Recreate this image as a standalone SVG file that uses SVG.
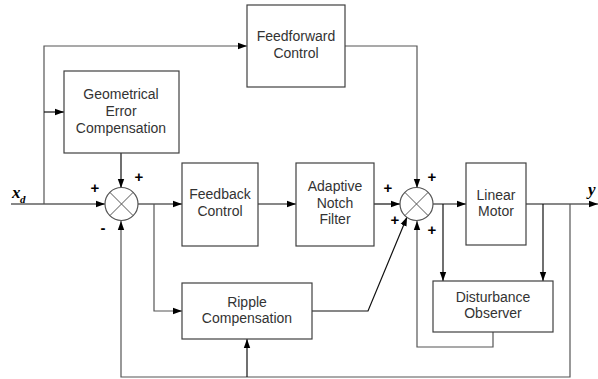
<svg xmlns="http://www.w3.org/2000/svg" width="598" height="379" viewBox="0 0 598 379">
  <style>
    .box { fill: #fff; stroke: #404040; stroke-width: 1.2; }
    .lbl { font-family: "Liberation Sans", Arial, sans-serif; font-size: 14px; fill: #333; text-anchor: middle; }
    .sig { font-family: "Liberation Sans", Arial, sans-serif; font-size: 15px; font-weight: bold; fill: #000; text-anchor: middle; }
    .var { font-family: "Liberation Serif", "Times New Roman", serif; font-style: italic; font-weight: bold; fill: #000; }
    .wire { fill: none; stroke: #111; stroke-width: 1.2; }
    .wire.g { stroke: #555; }
    .arr { marker-end: url(#ah); }
    .sum { fill: #fff; stroke: #555; stroke-width: 1.2; }
    .cross { stroke: #555; stroke-width: 1; }
  </style>
  <defs>
    <marker id="ah" markerWidth="10" markerHeight="8" refX="9" refY="4" orient="auto" markerUnits="userSpaceOnUse">
      <path d="M0,0.8 L9,4 L0,7.2 Z" fill="#000"/>
    </marker>
  </defs>
  <rect width="598" height="379" fill="#fff"/>

  <!-- connectors -->
  <g id="connectors">
    <path class="wire arr" d="M11,204 H105"/>
    <path class="wire g arr" d="M44,204 V46 H247"/>
    <path class="wire arr" d="M44,112 H64"/>
    <path class="wire arr" d="M121,153 V188"/>
    <path class="wire arr" d="M138,204 H182"/>
    <path class="wire arr" d="M258,204 H296"/>
    <path class="wire arr" d="M374,204 H400"/>
    <path class="wire g arr" d="M345,46 H417 V188"/>
    <path class="wire arr" d="M433,204 H466"/>
    <path class="wire arr" d="M526,204 H598"/>
    <path class="wire arr" d="M443,204 V281"/>
    <path class="wire arr" d="M543,204 V281"/>
    <path class="wire g arr" d="M493,332 V347 H417 V221"/>
    <path class="wire g arr" d="M570,204 V377 H121 V221"/>
    <path class="wire arr" d="M247,377 V339"/>
    <path class="wire g arr" d="M154,204 V311 H182"/>
    <path class="wire arr" d="M312,311 H368 L407,217"/>
  </g>

  <!-- blocks -->
  <g id="geometrical-error">
    <rect class="box" x="64" y="71" width="115" height="82"/>
    <text class="lbl" x="121" y="99">Geometrical</text>
    <text class="lbl" x="121" y="116">Error</text>
    <text class="lbl" x="121" y="133">Compensation</text>
  </g>
  <g id="feedforward">
    <rect class="box" x="247" y="5" width="98" height="82"/>
    <text class="lbl" x="296" y="41">Feedforward</text>
    <text class="lbl" x="296" y="58">Control</text>
  </g>
  <g id="feedback">
    <rect class="box" x="182" y="163" width="76" height="83"/>
    <text class="lbl" x="220" y="199">Feedback</text>
    <text class="lbl" x="220" y="216">Control</text>
  </g>
  <g id="notch-filter">
    <rect class="box" x="296" y="163" width="78" height="83"/>
    <text class="lbl" x="335" y="191">Adaptive</text>
    <text class="lbl" x="335" y="208">Notch</text>
    <text class="lbl" x="335" y="224">Filter</text>
  </g>
  <g id="linear-motor">
    <rect class="box" x="466" y="163" width="60" height="82"/>
    <text class="lbl" x="496" y="200">Linear</text>
    <text class="lbl" x="496" y="216">Motor</text>
  </g>
  <g id="ripple">
    <rect class="box" x="182" y="283" width="130" height="56"/>
    <text class="lbl" x="247" y="307">Ripple</text>
    <text class="lbl" x="247" y="323">Compensation</text>
  </g>
  <g id="observer">
    <rect class="box" x="433" y="281" width="120" height="51"/>
    <text class="lbl" x="493" y="302">Disturbance</text>
    <text class="lbl" x="493" y="318">Observer</text>
  </g>

  <!-- summing junctions -->
  <g id="sum1">
    <circle class="sum" cx="121.5" cy="204" r="16.5"/>
    <path class="cross" d="M109.8,192.3 L133.2,215.7 M133.2,192.3 L109.8,215.7"/>
    <text class="sig" x="95" y="193">+</text>
    <text class="sig" x="139" y="182">+</text>
    <text class="sig" x="103" y="233">-</text>
  </g>
  <g id="sum2">
    <circle class="sum" cx="416.5" cy="204" r="16.5"/>
    <path class="cross" d="M404.8,192.3 L428.2,215.7 M428.2,192.3 L404.8,215.7"/>
    <text class="sig" x="388" y="193">+</text>
    <text class="sig" x="432" y="182">+</text>
    <text class="sig" x="395" y="225">+</text>
    <text class="sig" x="432" y="235">+</text>
  </g>

  <!-- signal names -->
  <g id="signals">
    <text class="var" x="12" y="198" font-size="17">x</text>
    <text class="var" x="20" y="203" font-size="11">d</text>
    <text class="var" x="588" y="195" font-size="17">y</text>
  </g>
</svg>
